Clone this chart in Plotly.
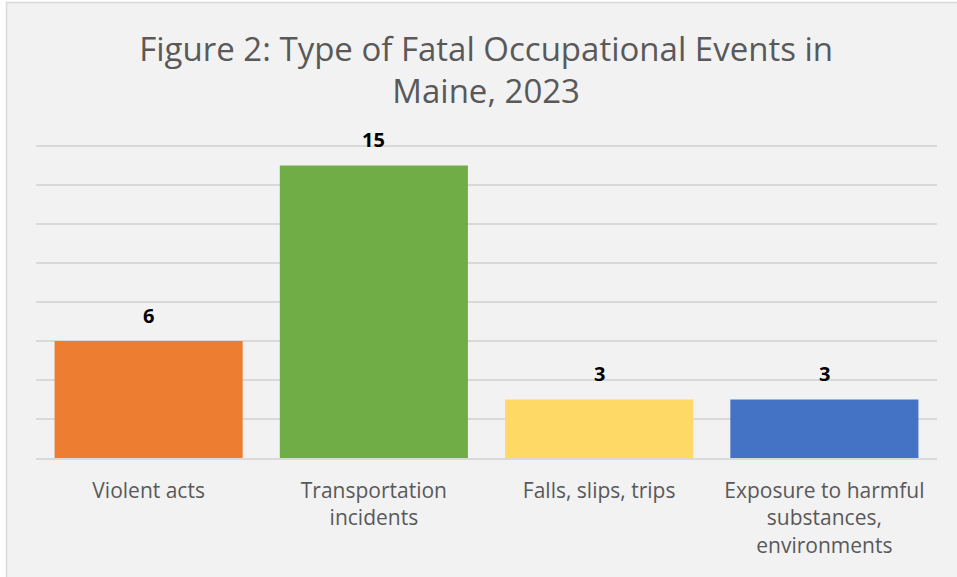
import plotly.graph_objects as go

categories = ["Violent acts", "Transportation<br>incidents", "Falls, slips, trips",
              "Exposure to harmful<br>substances,<br>environments"]
values = [6, 15, 3, 3]
colors = ["#ED7D31", "#70AD47", "#FFD966", "#4472C4"]
title_text = "Figure 2: Type of Fatal Occupational Events in<br>Maine, 2023"

fig = go.Figure(go.Bar(
    x=categories, y=values, marker=dict(color=colors, line=dict(width=0)),
    width=0.835, hoverinfo="x+y",
))

for c, v in zip(categories, values):
    fig.add_annotation(x=c, y=v, text=str(v), showarrow=False, yanchor="bottom",
                       yshift=10,
                       font=dict(family="Open Sans", size=20, color="black", weight="bold"))

fig.update_layout(
    width=957, height=577,
    margin=dict(l=36, r=20, t=144, b=119),
    paper_bgcolor="white", plot_bgcolor="rgba(0,0,0,0)",
    title=dict(text=title_text, x=0.508, xanchor="center", y=0.895, yanchor="middle",
               yref="container",
               font=dict(family="Open Sans", size=33, color="#595959")),
    showlegend=False,
    font=dict(family="Open Sans"),
)
fig.add_shape(type="rect", xref="paper", yref="paper",
              x0=(6.5 - 36) / 901, x1=(970 - 36) / 901,
              y0=(458 - 590) / 314, y1=(458 - 2.5) / 314,
              fillcolor="#F2F2F2", line=dict(color="#D9D9D9", width=1.5), layer="below")
fig.update_xaxes(showgrid=False, showline=True, linecolor="#D9D9D9", linewidth=1.5,
                 tickfont=dict(family="Open Sans", size=21, color="#595959"),
                 ticks="", ticklabelstandoff=13)
fig.update_yaxes(range=[0, 16.1], tickvals=[0, 2, 4, 6, 8, 10, 12, 14, 16], showgrid=True,
                 gridcolor="#D9D9D9", gridwidth=1.5,
                 showticklabels=False, zeroline=False, showline=False)

fig.write_html("out.html", config={"displayModeBar": False},
               post_script="document.body.style.margin='0';document.body.style.overflow='hidden';")
